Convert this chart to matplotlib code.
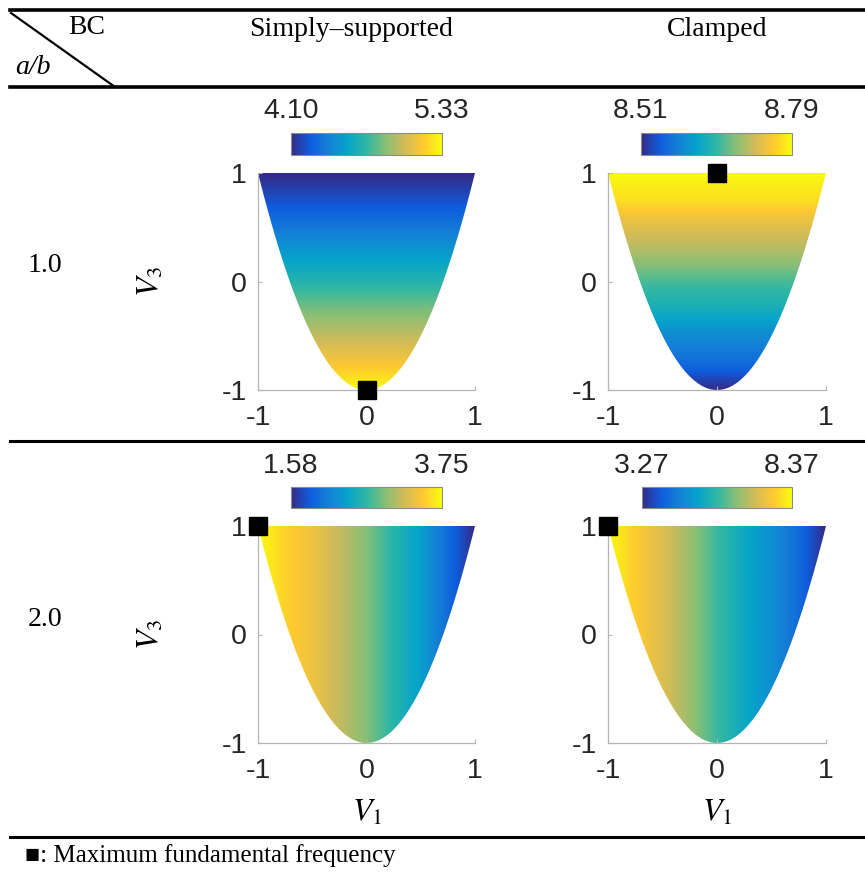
import numpy as np
import matplotlib
matplotlib.use("Agg")
import matplotlib.pyplot as plt
from matplotlib.colors import LinearSegmentedColormap
from matplotlib.lines import Line2D
from matplotlib.patches import Polygon

plt.rcParams["axes.unicode_minus"] = False
plt.rcParams["mathtext.fontset"] = "stix"

W, H = 865, 877  # canvas in pixels (dpi 100)

# --- data ---------------------------------------------------------------------
# fundamental frequency along the direction it changes in each panel
v3_nodes = [-1.0, -0.75, -0.5, -0.25, 0.0, 0.25, 0.5, 0.75, 1.0]
v1_nodes = [-1.0, -0.75, -0.5, -0.25, 0.0, 0.25, 0.5, 0.75, 1.0]
ss_10 = [5.33, 5.15, 4.99, 4.84, 4.68, 4.53, 4.37, 4.22, 4.10]   # vs V3
cl_10 = [8.51, 8.56, 8.59, 8.63, 8.66, 8.70, 8.73, 8.77, 8.79]   # vs V3
ss_20 = [3.75, 3.53, 3.38, 3.16, 2.93, 2.62, 2.36, 1.97, 1.58]   # vs V1
cl_20 = [8.37, 7.76, 7.25, 6.64, 5.92, 5.31, 4.80, 4.19, 3.27]   # vs V1

ranges = [(4.10, 5.33), (8.51, 8.79), (1.58, 3.75), (3.27, 8.37)]
max_points = [(0, -1), (0, 1), (-1, 1), (-1, 1)]
columns = ["Simply\u2013supported", "Clamped"]
rows = ["1.0", "2.0"]

# MATLAB parula, approximated
parula = LinearSegmentedColormap.from_list("parula", [
    "#352a87", "#0f5cdd", "#1481d6", "#06a4ca", "#2eb7a4",
    "#87bf77", "#d1bb59", "#fec832", "#f9fb0e"])

SANS = "Liberation Sans"
SERIF = "Liberation Serif"
GRAY = "#262626"


def fx(px):
    return px / W


def fy(py):
    return 1 - py / H


def rect(x0, y0, x1, y1):
    return [fx(x0), fy(y1), (x1 - x0) / W, (y1 - y0) / H]


fig = plt.figure(figsize=(W / 100, H / 100), dpi=100)

# panel layout: (axes box, colorbar box) in pixels
boxes = [
    ((258, 173, 475, 390), (291, 133, 442, 155)),
    ((608, 173, 826, 390), (641, 133, 792, 155)),
    ((258, 526, 475, 743), (291, 487, 442, 508)),
    ((608, 526, 826, 743), (642, 487, 792, 508)),
]
fields = [ss_10, cl_10, ss_20, cl_20]

v1_edge = np.linspace(-1, 1, 201)
boundary = np.column_stack([v1_edge, 2 * v1_edge ** 2 - 1])

for k, ((abox, cbox), vals, (lo, hi), (mx, my)) in enumerate(
        zip(boxes, fields, ranges, max_points)):
    ax = fig.add_axes(rect(*abox))
    vals = np.asarray(vals)
    if k < 2:   # changes with V3
        grid = np.tile(vals[:, None], (1, 2))
        ext = [-2, 2, -1.125, 1.125]
    else:       # changes with V1
        grid = np.tile(vals[None, :], (2, 1))
        ext = [-1.125, 1.125, -2, 2]
    im = ax.imshow(grid, origin="lower", extent=ext, cmap=parula,
                   vmin=lo, vmax=hi, interpolation="bilinear",
                   interpolation_stage="data", aspect="auto")
    clip = Polygon(boundary, closed=True, transform=ax.transData,
                   facecolor="none", edgecolor="none")
    ax.add_patch(clip)
    im.set_clip_path(clip)
    ax.plot(mx, my, "s", color="k", ms=12.5, clip_on=False, zorder=5)

    ax.set_xlim(-1, 1)
    ax.set_ylim(-1, 1)
    ax.set_xticks([-1, 0, 1])
    ax.set_yticks([-1, 0, 1])
    for side in ("top", "right"):
        ax.spines[side].set_visible(False)
    for side in ("left", "bottom"):
        ax.spines[side].set_color("#b5b5b5")
        ax.spines[side].set_linewidth(0.9)
    ax.tick_params(direction="in", length=3, color="#b5b5b5",
                   labelsize=20.5, labelcolor=GRAY)
    ax.tick_params(axis="y", pad=8)
    ax.tick_params(axis="x", pad=11)
    for lab in ax.get_xticklabels() + ax.get_yticklabels():
        lab.set_fontfamily(SANS)

    cax = fig.add_axes(rect(*cbox))
    cb = fig.colorbar(im, cax=cax, orientation="horizontal")
    cb.set_ticks([])
    cb.outline.set_edgecolor("#8c8c8c")
    cb.outline.set_linewidth(0.8)
    for xa, v in ((0, lo), (1, hi)):
        cax.text(xa, 1.68, f"{v:.2f}", transform=cax.transAxes, ha="center",
                 va="baseline", fontsize=20.5, family=SANS, color=GRAY)

# --- table frame ---------------------------------------------------------------
for y, lw in ((10, 2.6), (87, 2.6), (441, 2.2), (837, 2.2)):
    fig.add_artist(Line2D([fx(10), fx(865)], [fy(y), fy(y)], color="k", lw=lw))
fig.add_artist(Line2D([fx(11), fx(115)], [fy(13), fy(87)], color="k", lw=1.6))

fig.text(fx(87), fy(28), "BC", ha="center", va="center", fontsize=20, family=SERIF)
fig.text(fx(33), fy(67), "a/b", ha="center", va="center", fontsize=20,
         family=SERIF, style="italic")
fig.text(fx(351), fy(30), columns[0], ha="center", va="center", fontsize=20, family=SERIF)
fig.text(fx(717), fy(30), columns[1], ha="center", va="center", fontsize=20, family=SERIF)
fig.text(fx(45), fy(266), rows[0], ha="center", va="center", fontsize=20, family=SERIF)
fig.text(fx(45), fy(620), rows[1], ha="center", va="center", fontsize=20, family=SERIF)

for yc in (281, 634):
    fig.text(fx(150), fy(yc), r"$V_3$", ha="center", va="center", rotation=90,
             fontsize=23)
for xc in (367, 717):
    fig.text(fx(xc), fy(812), r"$V_1$", ha="center", va="center", fontsize=23)

fig.text(fx(25), fy(856), "\u25a0: Maximum fundamental frequency", ha="left",
         va="center", fontsize=18, family=[SERIF, "DejaVu Serif"])

fig.savefig("out.png", dpi=100)
